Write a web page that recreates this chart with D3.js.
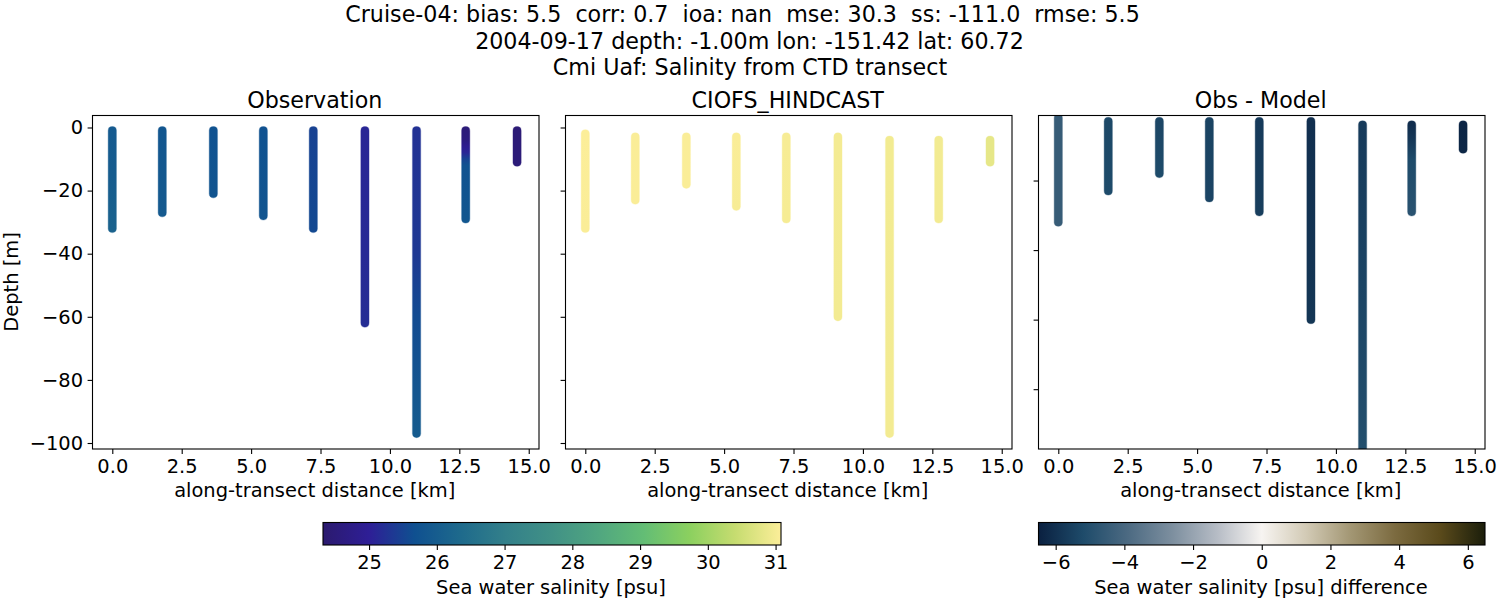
<!DOCTYPE html>
<html>
<head>
<meta charset="utf-8">
<script src="https://cdn.jsdelivr.net/npm/d3@7"></script>
<style>
html, body { margin: 0; padding: 0; background: #fff; }
text { font-family: "DejaVu Sans", sans-serif; fill: #000; white-space: pre; }
.domain, .tick line { stroke: #000; stroke-width: 1.1px; }
</style>
</head>
<body>
<svg id="chart" width="1500" height="600"></svg>
<script>
var titleLines = [
    'Cruise-04: bias: 5.5  corr: 0.7  ioa: nan  mse: 30.3  ss: -111.0  rmse: 5.5',
    '2004-09-17 depth: -1.00m lon: -151.42 lat: 60.72',
    'Cmi Uaf: Salinity from CTD transect'
];
var stationKm = [0, 1.8, 3.64, 5.44, 7.24, 9.1, 10.96, 12.73, 14.58];
var xTicks = [0, 2.5, 5, 7.5, 10, 12.5, 15];
var depthTicks = [0, -20, -40, -60, -80, -100];
var salinityTicks = [25, 26, 27, 28, 29, 30, 31];
var diffTicks = [-6, -4, -2, 0, 2, 4, 6];

var obsProfiles = [
    [[-1, 25.92], [-15, 25.98], [-32, 26.15]],
    [[-1, 25.82], [-27, 25.92]],
    [[-1, 25.72], [-21, 25.78]],
    [[-1, 25.72], [-28, 25.78]],
    [[-1, 25.48], [-32, 25.58]],
    [[-1, 25.1], [-40, 25.15], [-62, 25.2]],
    [[-1, 25.25], [-40, 25.35], [-60, 25.6], [-97, 25.95]],
    [[-1, 24.5], [-4, 24.6], [-6, 24.9], [-8, 25.1], [-10, 25.5], [-12, 25.72], [-29, 25.82]],
    [[-1, 24.45], [-11, 24.5]]
];
var modelProfiles = [
    [[-2, 31.08], [-32, 31.05]],
    [[-3, 31.06], [-23, 31.05]],
    [[-3, 31.06], [-18, 31.05]],
    [[-3, 31.05], [-25, 31.02]],
    [[-3, 31.02], [-29, 31.0]],
    [[-3, 30.98], [-60, 30.97]],
    [[-4, 30.95], [-97, 30.97]],
    [[-4, 30.96], [-29, 30.97]],
    [[-4, 30.8], [-11, 30.8]]
];
var diffProfiles = [
    [[-2, -4.5], [-32, -4.5]],
    [[-3, -5.3], [-23, -5.2]],
    [[-3, -5.35], [-18, -5.2]],
    [[-3, -5.45], [-25, -5.4]],
    [[-3, -5.7], [-29, -5.6]],
    [[-3, -6.05], [-60, -5.85]],
    [[-4, -5.7], [-50, -5.4], [-97, -5.05]],
    [[-4, -6.1], [-8, -5.8], [-14, -5.2], [-29, -4.9]],
    [[-4, -6.35], [-11, -6.3]]
];

var halineStops = ['#2b1a6e', '#2e1e96', '#0f5090', '#1e6a8c', '#33808a', '#419186', '#50a680', '#63bd75', '#8bd05f', '#c6dc70', '#fcee99'];
var diffStops = ['#0a2040', '#1e4b6a', '#4c6a82', '#7d8f9f', '#b6bcc5', '#f7f4f1', '#d2cab5', '#a29673', '#7b6a3f', '#5a4a1b', '#1b1e0b'];
var salinityRange = [24.32, 31.08];
var diffRange = [-6.5, 6.5];

function rampScale(stops, range) {
    var dom = stops.map(function(s, i) { return range[0] + (range[1] - range[0]) * i / (stops.length - 1); });
    return d3.scaleLinear().domain(dom).range(stops).clamp(true);
}
var salinityColor = rampScale(halineStops, salinityRange);
var diffColor = rampScale(diffStops, diffRange);

var svg = d3.select('#chart');
var defs = svg.append('defs');

var panels = [
    { title: 'Observation', left: 92.5, profiles: obsProfiles, color: salinityColor,
      yDomain: [3.8, -101.9], yTicks: depthTicks, yLabels: true },
    { title: 'CIOFS_HINDCAST', left: 565.5, profiles: modelProfiles, color: salinityColor,
      yDomain: [3.8, -101.9], yTicks: depthTicks, yLabels: false },
    { title: 'Obs - Model', left: 1038.5, profiles: diffProfiles, color: diffColor,
      yDomain: [-1.3, -97.2], yTicks: [-20, -40, -60, -80], yLabels: false }
];
var panelW = 446.5, panelTop = 115.5, panelH = 333.5;

var styleAxis = function(axis) {
    axis.select('.domain').remove();
    axis.selectAll('text').attr('font-size', 19.44).attr('font-family', null);
};

var drawPanel = function(p, i) {
    var g = svg.append('g').attr('transform', 'translate(' + p.left + ',' + panelTop + ')');
    var x = d3.scaleLinear().domain([-0.713, 15.37]).range([0, panelW]);
    var y = d3.scaleLinear().domain(p.yDomain).range([0, panelH]);

    defs.append('clipPath').attr('id', 'clip' + i)
        .append('rect').attr('width', panelW).attr('height', panelH);

    var plot = g.append('g').attr('clip-path', 'url(#clip' + i + ')');

    p.profiles.forEach(function(samples, s) {
        var y0 = y(samples[0][0]), y1 = y(samples[samples.length - 1][0]);
        var id = 'station' + i + '_' + s;
        var grad = defs.append('linearGradient').attr('id', id)
            .attr('gradientUnits', 'userSpaceOnUse')
            .attr('x1', 0).attr('x2', 0).attr('y1', y0).attr('y2', y1);
        grad.selectAll('stop').data(samples).enter().append('stop')
            .attr('offset', function(d) { return (y(d[0]) - y0) / (y1 - y0); })
            .attr('stop-color', function(d) { return p.color(d[1]); });

        var line = d3.line()
            .x(x(stationKm[s]))
            .y(function(d) { return y(d[0]); });

        // the faint fringe the overlapping dots leave, then the column itself
        plot.append('path').datum(samples)
            .attr('fill', 'none').attr('stroke', 'url(#' + id + ')')
            .attr('stroke-width', 9.4).attr('stroke-linecap', 'round').attr('opacity', 0.3)
            .attr('d', line);
        plot.append('path').datum(samples)
            .attr('fill', 'none').attr('stroke', 'url(#' + id + ')')
            .attr('stroke-width', 8.2).attr('stroke-linecap', 'round')
            .attr('d', line);
    });

    var bottom = g.append('g').attr('transform', 'translate(0,' + panelH + ')')
        .call(d3.axisBottom(x).tickValues(xTicks).tickFormat(d3.format('.1f')).tickSizeOuter(0).tickSize(4.9).tickPadding(5.5));
    styleAxis(bottom);

    var left = g.append('g')
        .call(d3.axisLeft(y).tickValues(p.yTicks).tickFormat(p.yLabels ? d3.format('d') : '').tickSizeOuter(0).tickSize(4.9).tickPadding(4.5));
    styleAxis(left);

    g.append('rect').attr('width', panelW).attr('height', panelH)
        .attr('fill', 'none').attr('stroke', '#000').attr('stroke-width', 1.1);

    g.append('text').attr('x', panelW / 2 - 1).attr('y', -8)
        .attr('text-anchor', 'middle').attr('font-size', 22.2).text(p.title);
    g.append('text').attr('x', panelW / 2 - 1).attr('y', panelH + 48)
        .attr('text-anchor', 'middle').attr('font-size', 19.44).text('along-transect distance [km]');
};
panels.forEach(drawPanel);

svg.append('text')
    .attr('transform', 'translate(18,282) rotate(-90)')
    .attr('text-anchor', 'middle').attr('font-size', 19.44).text('Depth [m]');

var titleX = [742.5, 749.5, 750];
var titleY = [22, 49, 75];
svg.selectAll('.suptitle').data(titleLines).enter().append('text')
    .attr('class', 'suptitle')
    .attr('x', function(d, i) { return titleX[i]; })
    .attr('y', function(d, i) { return titleY[i]; })
    .attr('text-anchor', 'middle').attr('font-size', 22.2)
    .text(function(d) { return d; });

var drawColorbar = function(id, left, width, domain, stops, ticks, label, labelX) {
    var g = svg.append('g').attr('transform', 'translate(' + left + ',522.5)');
    var h = 22.5;
    var grad = defs.append('linearGradient').attr('id', id);
    grad.selectAll('stop').data(stops).enter().append('stop')
        .attr('offset', function(d, i) { return i / (stops.length - 1); })
        .attr('stop-color', function(d) { return d; });
    g.append('rect').attr('width', width).attr('height', h)
        .attr('fill', 'url(#' + id + ')').attr('stroke', '#000').attr('stroke-width', 1.1);
    var x = d3.scaleLinear().domain(domain).range([0, width]);
    var axis = g.append('g').attr('transform', 'translate(0,' + h + ')')
        .call(d3.axisBottom(x).tickValues(ticks).tickFormat(d3.format('d')).tickSizeOuter(0).tickSize(4.9).tickPadding(5.5));
    styleAxis(axis);
    svg.append('text').attr('x', labelX).attr('y', 594)
        .attr('text-anchor', 'middle').attr('font-size', 19.44).text(label);
};
drawColorbar('halineBar', 323, 458, salinityRange, halineStops, salinityTicks, 'Sea water salinity [psu]', 551);
drawColorbar('diffBar', 1038.5, 446.5, diffRange, diffStops, diffTicks, 'Sea water salinity [psu] difference', 1261);
</script>
</body>
</html>
